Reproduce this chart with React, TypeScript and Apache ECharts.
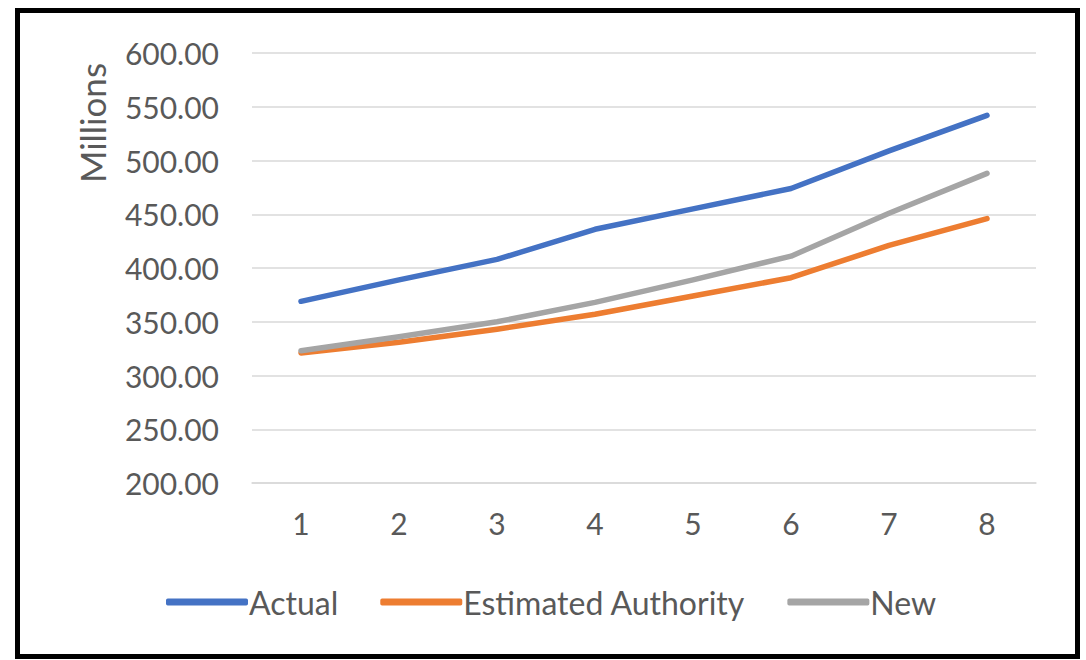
import React, { useEffect, useRef } from "react";
import * as echarts from "echarts";

const categories = ["1", "2", "3", "4", "5", "6", "7", "8"];
const actual = [369, 389, 408, 436, 455, 474, 509, 542];
const estimatedAuthority = [321, 331, 343, 357, 374, 391, 421, 446];
const newValues = [323, 336, 350, 368, 389, 411, 451, 488];
const yTicks = { min: 200, max: 600, interval: 50 };

const FONT = "Lato";
const TXT = "#595959";

export default function App() {
  const ref = useRef<HTMLDivElement>(null);
  useEffect(() => {
    if (!ref.current) return;
    const chart = echarts.init(ref.current, undefined, { renderer: "svg" });
    const mk = (name: string, data: number[], color: string) => ({
      name,
      type: "line",
      data,
      symbol: "none",
      itemStyle: { color },
      lineStyle: { color, width: 5.5, cap: "round", join: "round" },
    });
    chart.setOption({
      animation: false,
      textStyle: { fontFamily: FONT },
      grid: { left: 252, right: 50, top: 53, bottom: 177, containLabel: false },
      xAxis: {
        type: "category",
        data: categories,
        boundaryGap: true,
        axisLine: { show: true, lineStyle: { color: "#D9D9D9", width: 1.5 } },
        axisTick: { show: false },
        axisLabel: { fontSize: 30, color: TXT, margin: 25, fontFamily: FONT },
      },
      yAxis: {
        type: "value",
        min: yTicks.min,
        max: yTicks.max,
        interval: yTicks.interval,
        axisLine: { show: false },
        axisTick: { show: false },
        axisLabel: {
          fontSize: 30,
          color: TXT,
          margin: 33,
          fontFamily: FONT,
          formatter: (v: number) => v.toFixed(2),
        },
        splitLine: { lineStyle: { color: "#D9D9D9", width: 1.5 } },
      },
      legend: {
        top: 581,
        left: 161,
        icon: "roundRect",
        itemWidth: 82,
        itemHeight: 7,
        itemGap: 42,
        textStyle: { fontSize: 32, color: TXT, fontFamily: FONT, padding: [0, 0, 0, -4] },
        data: ["Actual", "Estimated Authority", "New"],
      },
      graphic: [
        {
          type: "text",
          x: 92,
          y: 123,
          rotation: Math.PI / 2,
          style: {
            text: "Millions",
            fontSize: 35,
            fontFamily: FONT,
            fill: TXT,
            align: "center",
            verticalAlign: "middle",
          },
        },
      ],
      series: [
        mk("Actual", actual, "#4472C4"),
        mk("Estimated Authority", estimatedAuthority, "#ED7D31"),
        mk("New", newValues, "#A5A5A5"),
      ],
    });
    return () => chart.dispose();
  }, []);
  return (
    <div style={{ position: "absolute", left: 0, top: 0, width: 1086, height: 660, background: "#fff" }}>
      <div
        style={{
          position: "absolute",
          left: 15,
          top: 8,
          width: 1065,
          height: 651,
          boxSizing: "border-box",
          border: "5px solid #000",
        }}
      />
      <div ref={ref} style={{ position: "absolute", left: 0, top: 0, width: 1086, height: 660 }} />
    </div>
  );
}
